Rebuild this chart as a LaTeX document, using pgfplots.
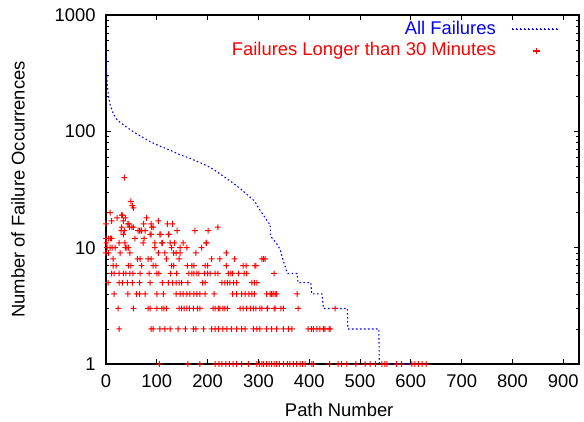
\documentclass[border=0pt]{standalone}
\usepackage{pgfplots}
\pgfplotsset{compat=1.18}
\usepackage{fontspec}
\setmainfont{Liberation Sans}
\definecolor{gpblue}{RGB}{0,0,255}
\definecolor{gpred}{RGB}{255,0,0}
\pgfdeclareplotmark{rplus}{%
  \pgfsetfillcolor{gpred}%
  \pgfpathrectangle{\pgfqpoint{-\pgfplotmarksize}{-0.375pt}}{\pgfqpoint{2\pgfplotmarksize}{0.75pt}}%
  \pgfpathrectangle{\pgfqpoint{-0.375pt}{-\pgfplotmarksize}}{\pgfqpoint{0.75pt}{2\pgfplotmarksize}}%
  \pgfusepathqfill}
\begin{document}
\fontsize{13.8}{16}\selectfont
\begin{tikzpicture}
\useasboundingbox (-79.5pt,-42.75pt) rectangle (358.5pt,273pt);
\begin{axis}[
  at={(0pt,0pt)}, anchor=south west,
  scale only axis, width=354.75pt, height=261.75pt,
  xmin=0, xmax=931, ymin=1, ymax=1000, ymode=log,
  xtick={0,100,...,900},
  ytick={1,10,100,1000}, yticklabels={1,10,100,1000},
  minor ytick={2,3,4,5,6,7,8,9,20,30,40,50,60,70,80,90,200,300,400,500,600,700,800,900},
  /pgf/number format/assume math mode=true,
  /pgf/number format/1000 sep={},
  tick align=inside, xtick pos=both, ytick pos=both,
  major tick length=4pt, minor tick length=2.2pt,
  every tick/.style={black, line width=0.6pt},
  axis line style={black, line width=0.8pt},
  xticklabel style={yshift=-3pt},
  yticklabel style={xshift=-3pt},
  xlabel={Path Number},
  ylabel={Number of Failure Occurrences},
  every axis x label/.style={at={(axis description cs:0.493,-0.132)}, anchor=center},
  every axis y label/.style={at={(axis description cs:-0.186,0.5)}, rotate=90, anchor=center},
  legend plot pos=right, legend cell align=right,
  legend style={draw=none, fill=none, at={(0.96,0.995)}, anchor=north east, row sep=0pt, inner sep=1pt},
]
\addplot[gpblue, line width=0.8pt, dash pattern=on 1.2pt off 1.8pt,
  legend image code/.code={\path (0pt,0pt); \foreach \i in {0,...,11} {\fill[gpblue] (10pt+3*\i pt,-0.4pt) rectangle ++(1.2pt,0.8pt);}}]
coordinates {
(0,480) (1,330) (3,240) (5,200) (8,170) (14,143) (22,125) (34,114) (54,99) (70,90)
(87,81.5) (105,75) (126,69) (145,63) (165,58.7) (180,55) (195,51.4) (205,49) (218,45)
(235,40) (251,35.7) (265,32) (280,28) (293,25) (300,22) (310,19) (320,16.3) (323,16)
(324,12.5) (335,11) (343,9.6) (347,8.2) (352,7) (356,6.2) (358,6) (376,6) (378,5)
(403,5) (405,4) (425,4) (428,3) (475,3) (476,2) (537,2) (538,1) (630,1)
};
\addlegendentry{\textcolor{gpblue}{All Failures}}
\addplot[only marks, mark=rplus, mark size=2.2pt, color=gpred,
  legend image code/.code={\path (0pt,0pt); \fill[gpred] (26pt,-0.3pt) rectangle (30pt,0.3pt); \fill[gpred] (27.7pt,-2pt) rectangle (28.3pt,2pt);}]
table {
x y
36 40
49 25
52 23
54 22
8 20
31 19
32 19
22 18
38 18
80 18
11 17
34 17
103 17
0 16
43 16
45 16
74 16
89 16
121 16
131 16
31 15
46 15
51 15
54 15
90 15
93 15
220 15
30 14
36 14
63 14
66 14
69 14
70 14
77 14
140 14
175 14
201 14
34 13
87 13
89 13
106 13
108 13
123 13
124 13
0 12
5 12
9 12
11 12
57 12
75 12
1 11
26 11
37 11
73 11
96 11
110 11
111 11
126 11
135 11
152 11
197 11
198 11
2 10
8 10
12 10
18 10
38 10
41 10
44 10
96 10
129 10
146 10
159 10
188 10
0 9
5 9
28 9
47 9
103 9
116 9
133 9
138 9
146 9
177 9
237 9
14 8
62 8
67 8
83 8
89 8
119 8
144 8
208 8
224 8
253 8
307 8
310 8
313 8
14 7
20 7
44 7
49 7
70 7
93 7
98 7
129 7
133 7
160 7
169 7
173 7
195 7
200 7
237 7
270 7
276 7
293 7
295 7
11 6
16 6
26 6
34 6
39 6
47 6
53 6
67 6
85 6
100 6
104 6
127 6
139 6
163 6
169 6
173 6
179 6
183 6
194 6
200 6
205 6
215 6
220 6
241 6
246 6
249 6
261 6
272 6
277 6
331 6
4 5
26 5
32 5
42 5
52 5
66 5
87 5
111 5
123 5
131 5
138 5
144 5
149 5
161 5
190 5
195 5
228 5
234 5
239 5
244 5
251 5
257 5
287 5
292 5
297 5
16 4
43 4
60 4
66 4
77 4
100 4
113 4
138 4
146 4
152 4
159 4
165 4
173 4
179 4
185 4
195 4
213 4
249 4
257 4
267 4
274 4
281 4
287 4
292 4
316 4
323 4
326 4
329 4
333 4
336 4
376 4
24 3
54 3
83 3
87 3
100 3
110 3
114 3
119 3
144 3
149 3
154 3
159 3
164 3
172 3
180 3
185 3
211 3
215 3
221 3
224 3
230 3
234 3
239 3
264 3
270 3
277 3
284 3
290 3
295 3
303 3
307 3
317 3
318 3
331 3
333 3
344 3
349 3
378 3
451 3
26 2
89 2
93 2
106 2
116 2
126 2
142 2
156 2
172 2
177 2
192 2
208 2
215 2
221 2
230 2
238 2
247 2
257 2
267 2
274 2
290 2
297 2
303 2
316 2
326 2
336 2
349 2
359 2
366 2
398 2
404 2
408 2
415 2
421 2
428 2
431 2
439 2
441 2
105 1
161 1
185 1
215 1
222 1
228 1
236 1
243 1
250 1
257 1
267 1
280 1
297 1
302 1
307 1
310 1
316 1
321 1
326 1
331 1
336 1
341 1
349 1
357 1
362 1
369 1
375 1
382 1
387 1
392 1
405 1
408 1
440 1
457 1
464 1
474 1
492 1
510 1
520 1
530 1
543 1
549 1
553 1
572 1
582 1
602 1
608 1
615 1
622 1
630 1
};
\addlegendentry{\textcolor{gpred}{Failures Longer than 30 Minutes}}
\end{axis}
\end{tikzpicture}
\end{document}
